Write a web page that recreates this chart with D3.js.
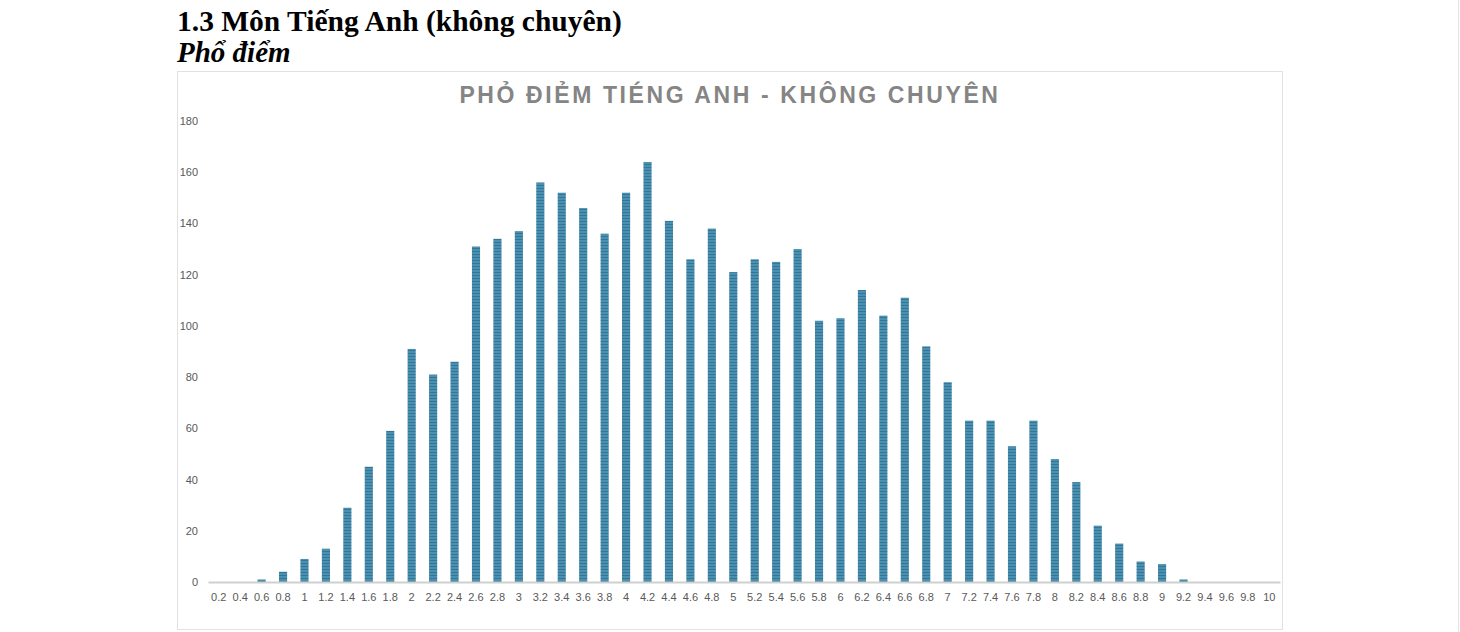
<!DOCTYPE html>
<html><head><meta charset="utf-8">
<script src="https://cdn.jsdelivr.net/npm/d3@7"></script>
<style>
html,body{margin:0;padding:0;background:#fff;}
svg{display:block;}
</style></head>
<body>
<svg id="c" width="1460" height="632"></svg>
<script>
const heading = "1.3 Môn Tiếng Anh (không chuyên)";
const subheading = "Phổ điểm";
const chartTitle = "PHỎ ĐIẺM TIÉNG ANH - KHÔNG CHUYÊN";
const categories = ["0.2","0.4","0.6","0.8","1","1.2","1.4","1.6","1.8","2","2.2","2.4","2.6","2.8","3","3.2","3.4","3.6","3.8","4","4.2","4.4","4.6","4.8","5","5.2","5.4","5.6","5.8","6","6.2","6.4","6.6","6.8","7","7.2","7.4","7.6","7.8","8","8.2","8.4","8.6","8.8","9","9.2","9.4","9.6","9.8","10"];
const counts = [0,0,1,4,9,13,29,45,59,91,81,86,131,134,137,156,152,146,136,152,164,141,126,138,121,126,125,130,102,103,114,104,111,92,78,63,63,53,63,48,39,22,15,8,7,1,0,0,0,0];
const yTicks = [0,20,40,60,80,100,120,140,160,180];

const svg = d3.select("#c");
const defs = svg.append("defs");
const pat = defs.append("pattern").attr("id","stripe").attr("patternUnits","userSpaceOnUse")
  .attr("width",4).attr("height",3);
pat.append("rect").attr("width",4).attr("height",3).attr("fill","#4b90ae");
pat.append("rect").attr("y",2).attr("width",4).attr("height",1).attr("fill","#33769a");

// page border right
svg.append("line").attr("x1",1458.5).attr("x2",1458.5).attr("y1",0).attr("y2",632).attr("stroke","#e4e4e4");

// headings
svg.append("text").attr("x",177).attr("y",31).attr("font-family","Liberation Serif, Times New Roman, serif")
  .attr("font-weight","bold").attr("font-size",29.5).attr("fill","#000").text(heading);
svg.append("text").attr("x",177).attr("y",62).attr("font-family","Liberation Serif, Times New Roman, serif")
  .attr("font-weight","bold").attr("font-style","italic").attr("font-size",29).attr("fill","#000").text(subheading);

// chart box
svg.append("rect").attr("x",177.5).attr("y",71.5).attr("width",1105).attr("height",558)
  .attr("fill","#fff").attr("stroke","#e2e2e2");

svg.append("text").attr("x",730).attr("y",103).attr("text-anchor","middle")
  .attr("font-family","Liberation Sans, Arial, sans-serif").attr("font-weight","bold")
  .attr("font-size",23).attr("letter-spacing",2.6).attr("fill","#858585").text(chartTitle);

const x = d3.scaleBand().domain(categories).range([208,1280]).paddingInner(0.62).paddingOuter(0.31);
const y = d3.scaleLinear().domain([0,180]).range([582,121]);

// y labels
const yAxis = d3.axisLeft(y).tickValues(yTicks).tickSize(0).tickPadding(0);
const gy = svg.append("g").attr("transform","translate(198,0)").call(yAxis);
gy.select(".domain").remove();
gy.selectAll("text").attr("font-family","Liberation Sans, Arial, sans-serif").attr("font-size",11).attr("fill","#595959");

// bars
svg.append("g").selectAll("rect").data(counts).join("rect")
  .attr("x",(d,i)=>x(categories[i])).attr("width",x.bandwidth())
  .attr("y",d=>y(d)).attr("height",d=>y(0)-y(d))
  .attr("fill","url(#stripe)");

// x axis
const xAxis = d3.axisBottom(x).tickSize(0).tickPadding(11);
const gx = svg.append("g").attr("transform","translate(0,582)").call(xAxis);
gx.select(".domain").attr("stroke","#d0d0d0").attr("stroke-width",2);
gx.selectAll("text").attr("font-family","Liberation Sans, Arial, sans-serif").attr("font-size",11).attr("fill","#595959");
</script>
</body></html>
